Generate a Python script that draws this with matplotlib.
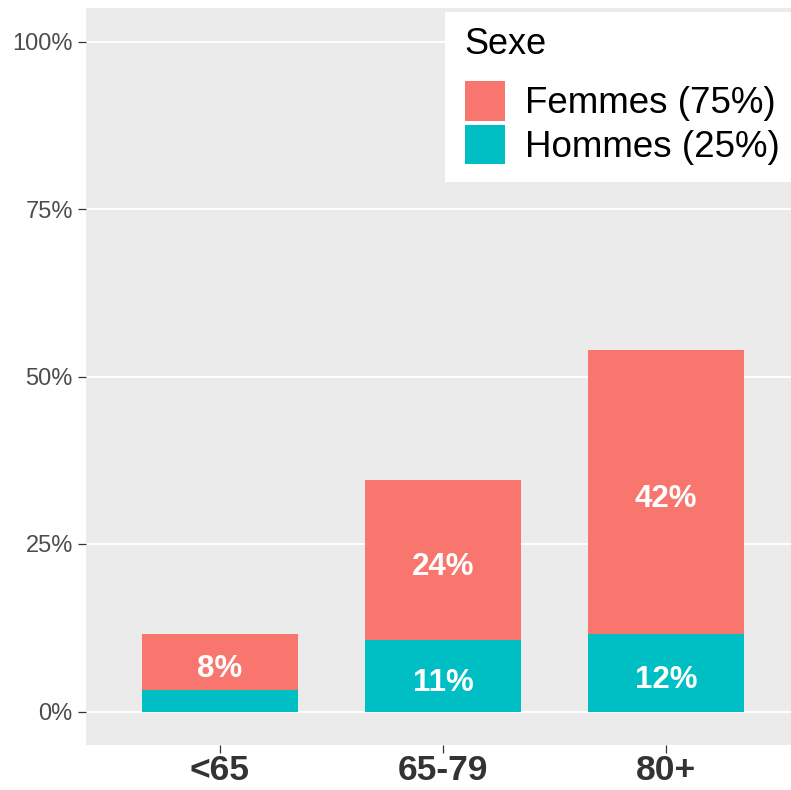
import matplotlib
matplotlib.use("Agg")
import matplotlib.pyplot as plt
from matplotlib.patches import Rectangle
import numpy as np

plt.rcParams['font.family'] = ['Liberation Sans', 'DejaVu Sans']

categories = ["<65", "65-79", "80+"]
femmes = [8.3, 24.0, 42.3]
hommes = [3.2, 10.6, 11.6]
series_labels = ["Femmes (75%)", "Hommes (25%)"]
legend_title = "Sexe"
yticks = [0, 25, 50, 75, 100]
ytick_labels = ["0%", "25%", "50%", "75%", "100%"]

col_f = "#F8766D"
col_h = "#00BFC4"

W, H = 791, 790
fig = plt.figure(figsize=(W / 100, H / 100), dpi=100)
fig.patch.set_facecolor("white")
ax = fig.add_axes([86 / W, (H - 745) / H, (800 - 86) / W, (745 - 8) / H])
ax.set_facecolor("#EBEBEB")

x = np.arange(1, len(categories) + 1)
bw = 0.7
bh = ax.bar(x, hommes, width=bw, color=col_h, zorder=3, linewidth=0)
bf = ax.bar(x, femmes, width=bw, bottom=hommes, color=col_f, zorder=3, linewidth=0)

for xi, h, f in zip(x, hommes, femmes):
    if f >= 5:
        ax.annotate(f"{round(f)}%", (xi, h + f / 2), xytext=(0, -5),
                    textcoords="offset points", ha="center", va="center",
                    color="white", fontsize=22.5, fontweight="bold", zorder=4)
    if h >= 5:
        ax.annotate(f"{round(h)}%", (xi, h / 2), xytext=(0, -5),
                    textcoords="offset points", ha="center", va="center",
                    color="white", fontsize=22.5, fontweight="bold", zorder=4)

ax.set_xlim(0.4, 3.6)
ax.set_ylim(-5, 105)
ax.set_yticks(yticks)
ax.set_yticklabels(ytick_labels)
ax.set_xticks(x)
ax.set_xticklabels(categories)

for yv in yticks:
    ax.axhline(yv, color="white", linewidth=1.4, zorder=1)

for s in ax.spines.values():
    s.set_visible(False)

ax.tick_params(axis="y", length=5.5, width=0.9, color="#333333",
               labelcolor="#4D4D4D", labelsize=17, pad=4)
ax.tick_params(axis="x", length=5.5, width=0.9, color="#333333",
               labelcolor="#333333", labelsize=25.5, pad=1)
for lab in ax.get_xticklabels():
    lab.set_fontweight("bold")

# legend: white background box, title, and entries
ax.add_patch(Rectangle((445 / W, 1 - 182 / H), (820 - 445) / W, (182 - 12) / H,
                       transform=fig.transFigure, facecolor="white",
                       edgecolor="none", zorder=8, clip_on=False))
ax.text(464 / W, 1 - 45 / H, legend_title, fontsize=26, color="black",
        ha="left", va="center", zorder=11, transform=fig.transFigure)
leg = ax.legend([bf, bh], series_labels,
                loc="upper left", bbox_to_anchor=(465 / W, 1 - 81 / H),
                bbox_transform=fig.transFigure,
                fontsize=26.5, frameon=False,
                handlelength=1.09, handleheight=1.28, labelspacing=0.1,
                handletextpad=0.55, borderpad=0, borderaxespad=0)
leg.set_zorder(12)

fig.savefig("out.png", dpi=100, facecolor="white")
